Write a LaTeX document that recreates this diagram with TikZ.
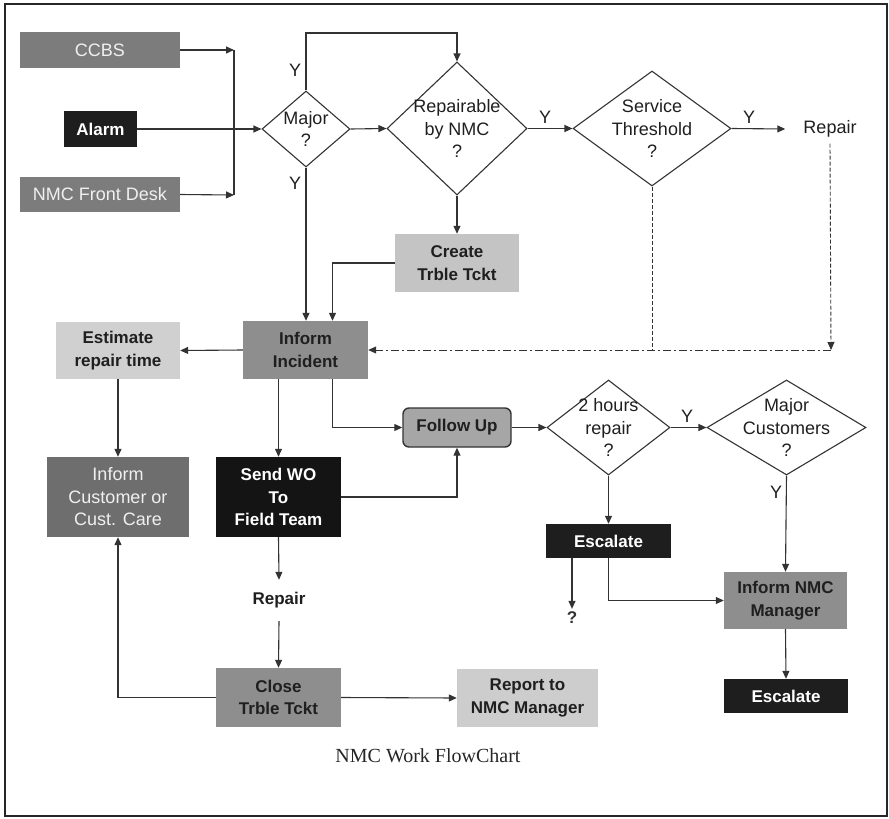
\documentclass[tikz,border=0pt]{standalone}
\usepackage{fontspec}
\setmainfont{Liberation Sans}
\newfontfamily\capfont{Liberation Serif}
\usetikzlibrary{shapes.geometric,arrows.meta}
\definecolor{gA}{HTML}{7C7C7C}
\definecolor{gDark}{HTML}{1E1E1E}
\definecolor{gLight}{HTML}{C4C4C4}
\definecolor{gMid}{HTML}{8E8E8E}
\definecolor{gCust}{HTML}{6E6E6E}
\definecolor{gFol}{HTML}{A6A6A6}
\definecolor{gLn}{HTML}{333333}
\begin{document}
\begin{tikzpicture}[x=1pt,y=-1pt,
  ln/.style={line width=1.1pt, draw=gLn},
  arr/.style={ln, -{Triangle[length=8pt,width=7pt]}},
  dsh/.style={ln, line width=0.9pt, dash pattern=on 4pt off 2pt},
  dshdot/.style={ln, line width=1pt, dash pattern=on 8pt off 3pt on 2pt off 3pt},
  box/.style={rectangle, inner sep=0pt, align=center,
     font=\fontsize{17}{22.5}\selectfont\bfseries, text=black!88},
  lbox/.style={box, font=\fontsize{18}{22.5}\selectfont, text=black!6},
  wbox/.style={box, text=white},
  dia/.style={diamond, draw=gLn, line width=1.1pt, inner sep=0pt},
  dtxt/.style={align=center, font=\fontsize{18}{22.5}\selectfont, text=black!88},
  ylab/.style={font=\fontsize{18}{20}\selectfont, text=black!88, inner sep=0pt}
]
\useasboundingbox (0,0) rectangle (889,819);
\draw[line width=2pt, draw=black!85] (5,4) rectangle (887,816);

% sources
\node[lbox, fill=gA, minimum width=160pt, minimum height=36pt] (ccbs) at (100,50) {CCBS};
\node[wbox, fill=gDark, minimum width=73pt, minimum height=36pt] (alarm) at (100.5,129) {Alarm};
\node[lbox, fill=gA, minimum width=160pt, minimum height=35pt] (front) at (100,194.5) {NMC Front Desk};
\coordinate (bt) at (234,50);
\coordinate (bb) at (234,195);

% decisions top row
\node[dia, minimum width=88pt, minimum height=76pt,
  label={[dtxt]center:{Major\\?}}] (major) at (306,129) {};
\node[dia, minimum width=140pt, minimum height=133pt,
  label={[dtxt]center:{Repairable\\by NMC\\?}}] (rep) at (457,128.5) {};
\node[dia, minimum width=158pt, minimum height=115pt,
  label={[dtxt]center:{Service\\Threshold\\?}}] (svc) at (652,128.5) {};
\node[font=\fontsize{18}{20}\selectfont, text=black!88, inner xsep=18pt, inner ysep=6pt] (rep1) at (830,129) {Repair};
\coordinate (mtop) at (306,33);

\node[ylab] (y1) at (295,70) {Y};
\node[ylab] (y2) at (295,183) {Y};
\node[ylab] (y3) at (545,117) {Y};
\node[ylab] (y4) at (749,117) {Y};

% middle
\node[box, fill=gLight, minimum width=124pt, minimum height=58pt] (create) at (457,263) {Create\\Trble Tckt};
\node[box, fill=gMid, minimum width=125pt, minimum height=58pt] (inform) at (305.5,350) {Inform\\Incident};
\node[box, fill=gLight!80!white, minimum width=124pt, minimum height=57pt] (est) at (118,350.5) {Estimate\\repair time};
\node[lbox, fill=gCust, minimum width=142pt, minimum height=80pt] (cust) at (118,497) {Inform\\Customer or\\Cust. Care};
\node[wbox, fill=black!92, minimum width=125pt, minimum height=80pt] (sendwo) at (278.5,497) {Send WO\\To\\Field Team};
\node[box, fill=gFol, draw=gLn, line width=1.4pt, rounded corners=6pt, minimum width=108pt, minimum height=39pt] (follow) at (457,427.5) {Follow Up};
\node[dia, minimum width=123pt, minimum height=95pt,
  label={[dtxt]center:{2 hours\\repair\\?}}] (two) at (608.5,427.5) {};
\node[dia, minimum width=159pt, minimum height=95pt,
  label={[dtxt]center:{Major\\Customers\\?}}] (majc) at (786.5,427.5) {};
\node[ylab] (y5) at (687,416) {Y};
\node[ylab] (y6) at (776,492) {Y};

\coordinate (dc) at (831,350);
\coordinate (ds) at (652,350);

% lower
\node[wbox, fill=gDark, minimum width=125pt, minimum height=34pt] (esc1) at (608.5,541) {Escalate};
\node[font=\fontsize{17}{20}\selectfont\bfseries, text=black!80, inner sep=3pt] (q) at (572,618) {?};
\node[box, fill=gMid, minimum width=123pt, minimum height=57pt] (nmcm) at (785.5,600.5) {Inform NMC\\Manager};
\node[wbox, fill=gDark, minimum width=124pt, minimum height=34pt] (esc2) at (786,696) {Escalate};
\node[box, minimum height=41pt] (rep2) at (279,600.5) {Repair};
\node[box, fill=gMid, minimum width=125pt, minimum height=59pt] (close) at (278.5,697.5) {Close\\Trble Tckt};
\node[box, fill=gLight!85!white, minimum width=141pt, minimum height=58pt] (report) at (527.5,698) {Report to\\NMC Manager};
\node[font=\capfont\fontsize{20}{22}\selectfont, text=black!85] (cap) at (428,756) {NMC Work FlowChart};

% connectors
\draw[arr] (ccbs.east) -- (bt);
\draw[arr] (front.east) -- (bb);
\draw[ln] (bt) -- (bb);
\draw[arr] (alarm.east) -- (major.west);
\draw[arr] (major.north) -- (mtop) -| (rep.north);
\draw[arr] (major.south) -- (major.south |- inform.north);
\draw[arr] (major.east) -- (rep.west);
\draw[arr] (rep.south) -- (create.north);
\draw[arr] (create.west) -| ([xshift=27pt]inform.north);
\draw[arr] (rep.east) -- (svc.west);
\draw[arr] (svc.east) -- (rep1.west);
\draw[dsh] (svc.south) -- (ds);
\draw[dsh, -{Triangle[length=8pt,width=7pt]}] (rep1.south) -- (dc);
\draw[dshdot, -{Triangle[length=8pt,width=7pt]}] (dc) -- (inform.east);
\draw[arr] (inform.west) -- (est.east);
\draw[arr] (est.south) -- (cust.north);
\draw[arr] (sendwo.north |- inform.south) -- (sendwo.north);
\draw[arr] ([xshift=27pt]inform.south) |- (follow.west);
\draw[arr] (sendwo.east) -| (follow.south);
\draw[arr] (follow.east) -- (two.west);
\draw[arr] (two.east) -- (majc.west);
\draw[arr] (majc.south) -- (nmcm.north);
\draw[arr] (two.south) -- (esc1.north);
\draw[arr] (esc1.south -| q.north) -- (q.north);
\draw[arr] (esc1.south) |- (nmcm.west);
\draw[arr] (nmcm.south) -- (esc2.north);
\draw[arr] (sendwo.south) -- (rep2.north);
\draw[arr] (rep2.south) -- (close.north);
\draw[arr] (close.west) -| (cust.south);
\draw[arr] (close.east) -- (report.west);
\end{tikzpicture}
\end{document}
